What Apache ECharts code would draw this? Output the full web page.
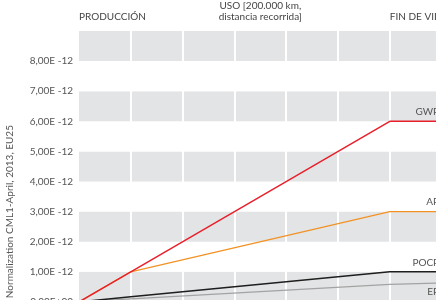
<!DOCTYPE html>
<html>
<head>
<meta charset="utf-8">
<script src="https://cdn.jsdelivr.net/npm/echarts@6/dist/echarts.min.js"></script>
<style>
	html, body { margin: 0; padding: 0; background: #fff; }
	#chart { width: 436px; height: 300px; }
</style>
</head>
<body>
<div id="chart"></div>
<script>
// life cycle steps on the x axis (production = 0..1, use = 1..6, end of life = 6..)
var stepX = [0, 1, 6, 7];
var gwpValues = [0, 1.0e-12, 6.0e-12, 6.0e-12];
var apValues = [0, 1.0e-12, 3.0e-12, 3.0e-12];
var pocpValues = [0, 0.17e-12, 1.0e-12, 1.0e-12];
var epValues = [0, 0.1e-12, 0.58e-12, 0.63e-12];

var seriesNames = ['GWP', 'AP', 'POCP', 'EP'];
var phaseLabels = ['PRODUCCIÓN', 'USO [200.000 km,\ndistancia recorrida]', 'FIN DE VIDA'];
var phaseAt = [0, 3.5, 6];
var yAxisName = 'Normalization CML1-April, 2013, EU25';

var font = 'Lato, "Open Sans", sans-serif';
var mainChart = echarts.init(document.getElementById('chart'));

function toData(values, labelBelow) {
	return values.map(function (v, i) {
		if (i < values.length - 1) {
			return [stepX[i], v];
		}
		return {
			value: [stepX[i], v],
			label: {
				show: true,
				position: labelBelow ? [-2, 4] : [-2, -4],
				align: 'right',
				verticalAlign: labelBelow ? 'top' : 'bottom'
			}
		};
	});
}

function lineSeries(name, values, color, width, labelBelow) {
	return {
		name: name,
		type: 'line',
		data: toData(values, labelBelow),
		symbol: 'circle',
		symbolSize: 1,
		showSymbol: true,
		itemStyle: { color: 'rgba(0,0,0,0)' },
		lineStyle: { color: color, width: width },
		label: {
			formatter: '{a}',
			color: '#555',
			fontFamily: font,
			fontSize: 10
		},
		silent: true
	};
}

var chartOption = {
	animation: false,
	grid: {
		left: 79,
		top: 31,
		width: 8 * 51.8,
		height: 12 * 30.1,
		outerBoundsMode: 'none'
	},
	xAxis: {
		type: 'value',
		position: 'top',
		offset: 1,
		min: 0,
		max: 8,
		interval: 1,
		axisLine: { show: true, lineStyle: { color: '#333', width: 2 } },
		axisTick: { show: false },
		axisLabel: { show: false },
		splitLine: {
			show: true,
			showMinLine: false,
			lineStyle: { color: '#fff', width: 2 }
		}
	},
	yAxis: {
		type: 'value',
		min: -3e-12,
		max: 9e-12,
		interval: 1e-12,
		name: yAxisName,
		nameLocation: 'middle',
		nameGap: 61,
		nameTextStyle: { color: '#555', fontFamily: font, fontSize: 10 },
		axisLine: { show: false },
		axisTick: { show: false },
		splitLine: { show: false },
		splitArea: {
			show: true,
			areaStyle: { color: ['#fff', '#e3e4e6'] }
		},
		axisLabel: {
			showMaxLabel: false,
			margin: 6,
			color: '#555',
			fontFamily: font,
			fontSize: 10,
			padding: [0, 0, 6, 0],
			formatter: function (val) {
				var m = val / 1e-12;
				if (Math.abs(m) < 1e-6) {
					return '0,00E+00';
				}
				return m.toFixed(2).replace('.', ',') + 'E -12';
			}
		}
	},
	series: [
		lineSeries(seriesNames[3], epValues, '#a3a3a3', 1.2, true),
		lineSeries(seriesNames[2], pocpValues, '#1e1e1e', 1.5, false),
		lineSeries(seriesNames[1], apValues, '#f39224', 1.3, false),
		lineSeries(seriesNames[0], gwpValues, '#e8202b', 1.5, false)
	]
};

mainChart.setOption(chartOption);

// phase headers above the plot, placed with the x axis scale
var aligns = ['left', 'center', 'left'];
var headers = phaseLabels.map(function (txt, i) {
	var px = mainChart.convertToPixel({ xAxisIndex: 0 }, phaseAt[i]);
	return {
		type: 'text',
		x: px,
		y: 23,
		style: {
			text: txt,
			fill: '#444',
			font: '10px ' + font,
			align: aligns[i],
			verticalAlign: 'bottom',
			lineHeight: 11.5
		}
	};
});
mainChart.setOption({ graphic: headers });
</script>
</body>
</html>
